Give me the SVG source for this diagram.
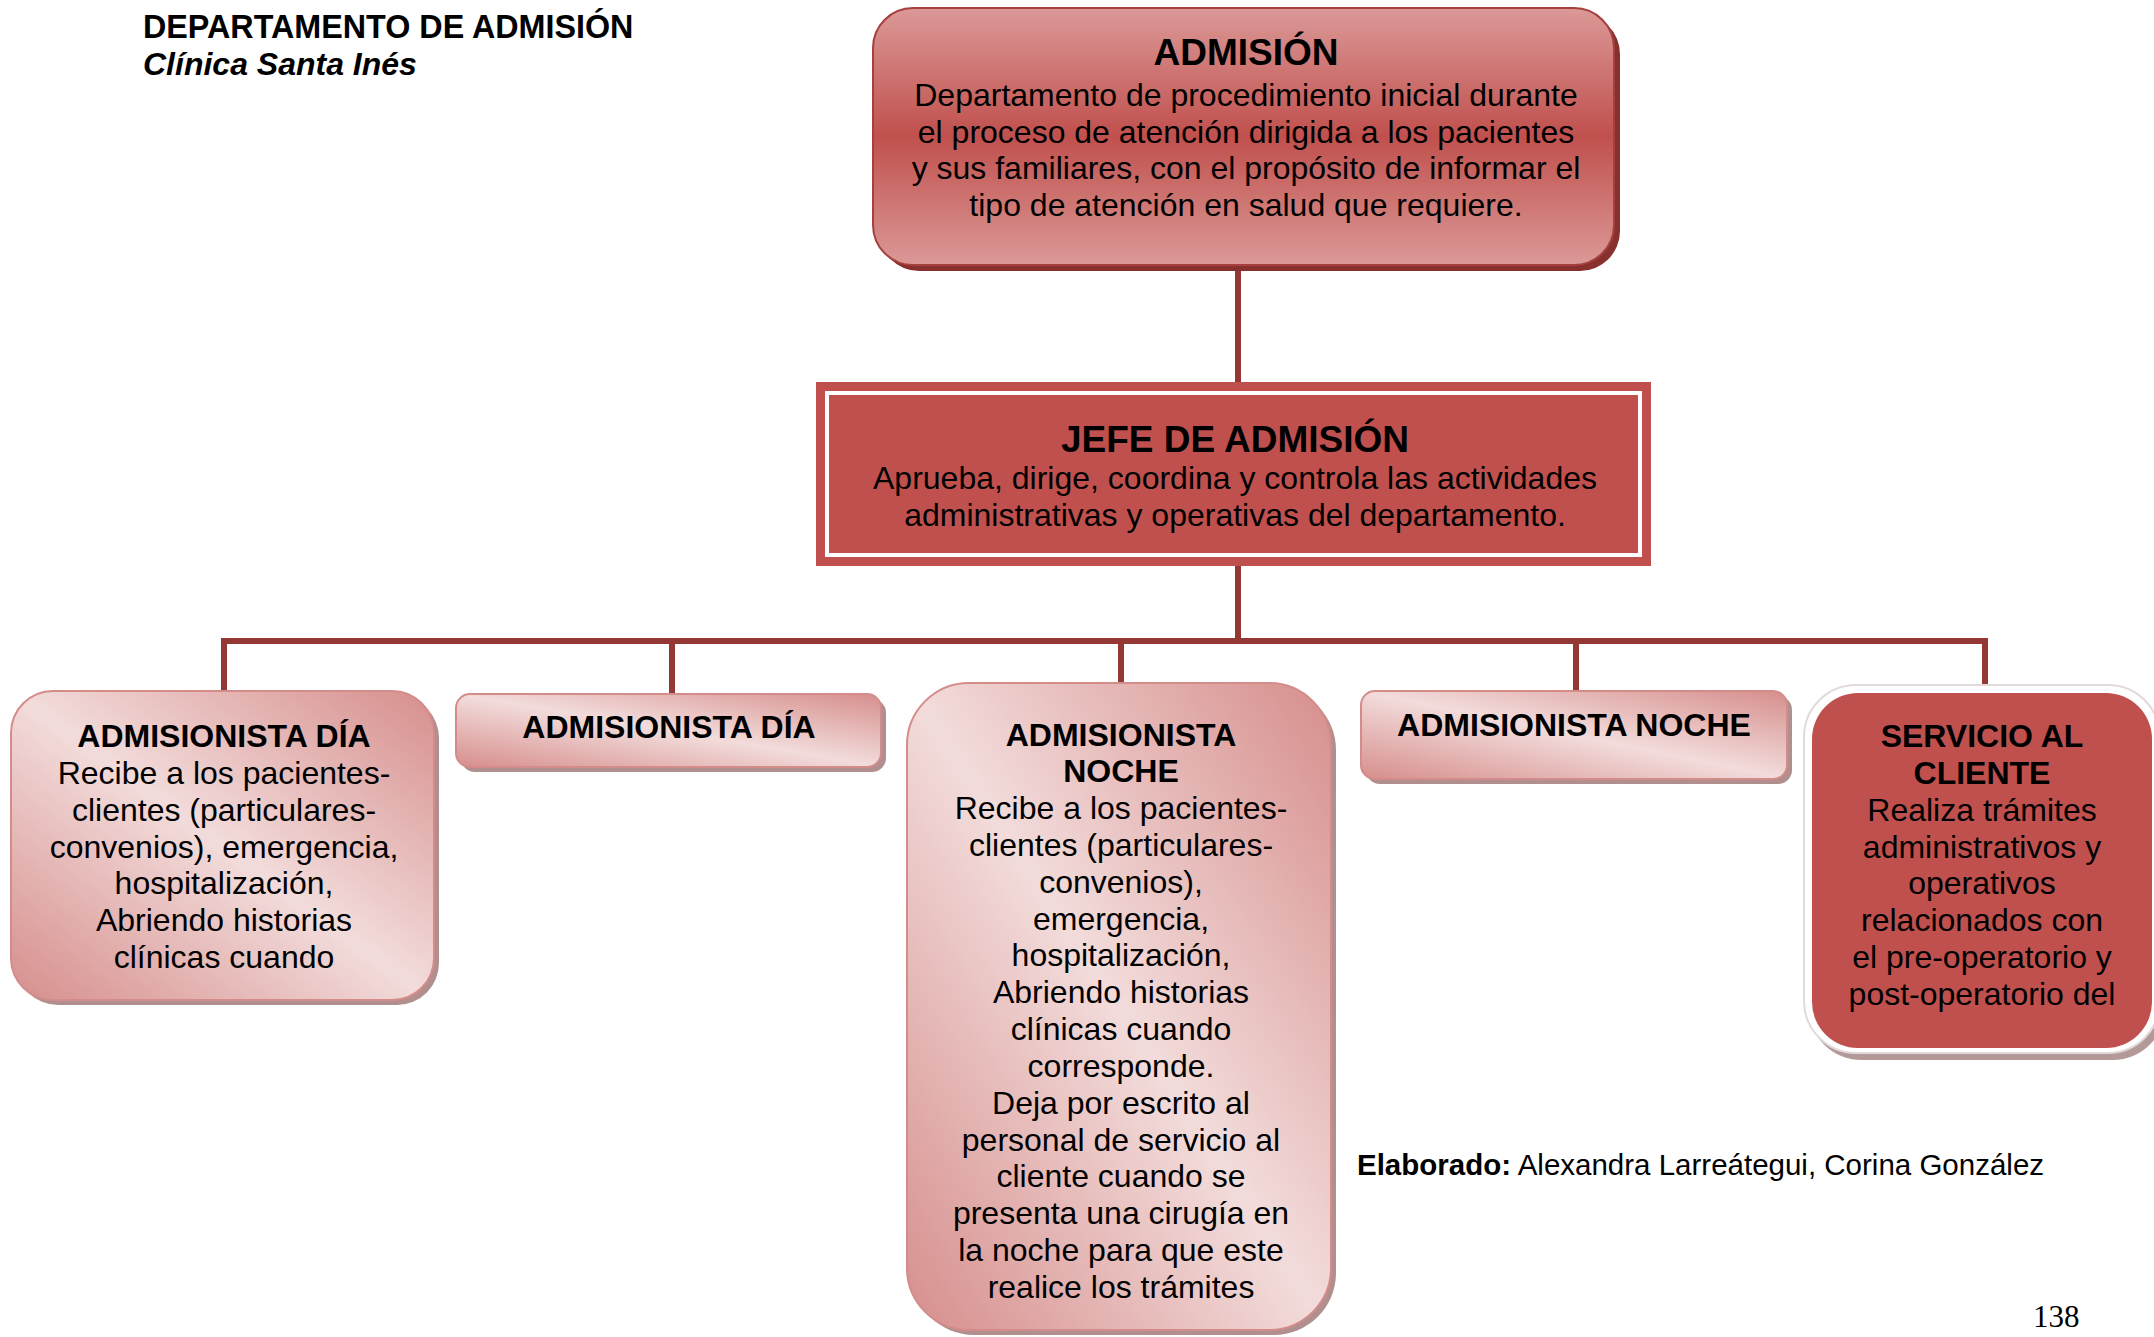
<svg xmlns="http://www.w3.org/2000/svg" width="2154" height="1337" viewBox="0 0 2154 1337">
  <defs>
    <style>
      .t{font-family:"Liberation Sans",Arial,sans-serif;fill:#000;font-size:32px}
      .c{text-anchor:middle}
      .b{font-weight:bold}
      .h36{font-size:37px;font-weight:bold}
      .conn{stroke:#953735;stroke-width:6;fill:none;stroke-linecap:butt}
      .soft{fill:url(#gSoft);stroke:#d48c8a;stroke-width:2}
      .softShadow{fill:#b08f8e}
    </style>
    <linearGradient id="gTop" x1="0" y1="0" x2="0" y2="1">
      <stop offset="0" stop-color="#db9997"/>
      <stop offset="0.5" stop-color="#c0504d"/>
      <stop offset="1" stop-color="#db9997"/>
    </linearGradient>
    <linearGradient id="gSoft" x1="0" y1="1" x2="1" y2="0">
      <stop offset="0" stop-color="#d68e8c"/>
      <stop offset="0.5" stop-color="#f2dcdb"/>
      <stop offset="1" stop-color="#d68e8c"/>
    </linearGradient>
  </defs>

  <rect width="2154" height="1337" fill="#fff"/>

  <!-- page heading -->
  <g id="heading">
    <text class="t b" x="143" y="38" style="font-size:32.3px">DEPARTAMENTO DE ADMISIÓN</text>
    <text class="t b" x="143" y="75" font-style="italic">Clínica Santa Inés</text>
  </g>

  <!-- connectors -->
  <g id="connectors">
    <line class="conn" x1="1238" y1="265" x2="1238" y2="382"/>
    <line class="conn" x1="1238" y1="566" x2="1238" y2="641"/>
    <line class="conn" x1="221" y1="641" x2="1988" y2="641"/>
    <line class="conn" x1="224" y1="641" x2="224" y2="691"/>
    <line class="conn" x1="672" y1="641" x2="672" y2="694"/>
    <line class="conn" x1="1121" y1="641" x2="1121" y2="683"/>
    <line class="conn" x1="1576" y1="641" x2="1576" y2="691"/>
    <line class="conn" x1="1985" y1="641" x2="1985" y2="685"/>
  </g>

  <!-- ADMISIÓN -->
  <g id="admision">
    <rect x="879" y="14" width="741" height="257" rx="40" fill="#87302e"/>
    <rect x="873" y="8" width="741" height="257" rx="40" fill="url(#gTop)" stroke="#a5403e" stroke-width="2"/>
    <text class="t c h36" x="1246" y="65">ADMISIÓN</text>
    <text class="t c" x="1246" y="106">Departamento de procedimiento inicial durante</text>
    <text class="t c" x="1246" y="143">el proceso de atención dirigida a los pacientes</text>
    <text class="t c" x="1246" y="179">y sus familiares, con el propósito de informar el</text>
    <text class="t c" x="1246" y="216">tipo de atención en salud que requiere.</text>
  </g>

  <!-- JEFE DE ADMISIÓN -->
  <g id="jefe">
    <rect x="816" y="382" width="835" height="184" fill="#c0504d"/>
    <rect x="827" y="393" width="813" height="162" fill="none" stroke="#fff" stroke-width="4"/>
    <text class="t c h36" x="1235" y="452">JEFE DE ADMISIÓN</text>
    <text class="t c" x="1235" y="489">Aprueba, dirige, coordina y controla las actividades</text>
    <text class="t c" x="1235" y="526">administrativas y operativas del departamento.</text>
  </g>

  <!-- ADMISIONISTA DÍA (detalle) -->
  <g id="admisionista-dia-1">
    <rect class="softShadow" x="16" y="696" width="423" height="309" rx="42"/>
    <rect class="soft" x="11" y="691" width="423" height="309" rx="42"/>
    <text class="t c b" x="224" y="747">ADMISIONISTA DÍA</text>
    <text class="t c" x="224" y="784">Recibe a los pacientes-</text>
    <text class="t c" x="224" y="821">clientes (particulares-</text>
    <text class="t c" x="224" y="858">convenios), emergencia,</text>
    <text class="t c" x="224" y="894">hospitalización,</text>
    <text class="t c" x="224" y="931">Abriendo historias</text>
    <text class="t c" x="224" y="968">clínicas cuando</text>
  </g>

  <!-- ADMISIONISTA DÍA -->
  <g id="admisionista-dia-2">
    <rect class="softShadow" x="461" y="699" width="425" height="73" rx="14"/>
    <rect class="soft" x="456" y="694" width="425" height="73" rx="14"/>
    <text class="t c b" x="669" y="738">ADMISIONISTA DÍA</text>
  </g>

  <!-- ADMISIONISTA NOCHE (detalle) -->
  <g id="admisionista-noche-1">
    <rect class="softShadow" x="912" y="688" width="424" height="647" rx="62"/>
    <rect class="soft" x="907" y="683" width="424" height="647" rx="62"/>
    <text class="t c b" x="1121" y="746">ADMISIONISTA</text>
    <text class="t c b" x="1121" y="782">NOCHE</text>
    <text class="t c" x="1121" y="819">Recibe a los pacientes-</text>
    <text class="t c" x="1121" y="856">clientes (particulares-</text>
    <text class="t c" x="1121" y="893">convenios),</text>
    <text class="t c" x="1121" y="930">emergencia,</text>
    <text class="t c" x="1121" y="966">hospitalización,</text>
    <text class="t c" x="1121" y="1003">Abriendo historias</text>
    <text class="t c" x="1121" y="1040">clínicas cuando</text>
    <text class="t c" x="1121" y="1077">corresponde.</text>
    <text class="t c" x="1121" y="1114">Deja por escrito al</text>
    <text class="t c" x="1121" y="1151">personal de servicio al</text>
    <text class="t c" x="1121" y="1187">cliente cuando se</text>
    <text class="t c" x="1121" y="1224">presenta una cirugía en</text>
    <text class="t c" x="1121" y="1261">la noche para que este</text>
    <text class="t c" x="1121" y="1298">realice los trámites</text>
  </g>

  <!-- ADMISIONISTA NOCHE -->
  <g id="admisionista-noche-2">
    <rect class="softShadow" x="1366" y="696" width="426" height="88" rx="14"/>
    <rect class="soft" x="1361" y="691" width="426" height="88" rx="14"/>
    <text class="t c b" x="1574" y="736">ADMISIONISTA NOCHE</text>
  </g>

  <!-- SERVICIO AL CLIENTE -->
  <g id="servicio-cliente">
    <rect x="1809" y="692" width="356" height="368" rx="52" fill="#b39a99"/>
    <rect x="1804" y="685" width="356" height="368" rx="52" fill="#fff" stroke="#e2dada" stroke-width="2"/>
    <rect x="1812" y="693" width="340" height="355" rx="46" fill="#c0504d"/>
    <text class="t c b" x="1982" y="747">SERVICIO AL</text>
    <text class="t c b" x="1982" y="784">CLIENTE</text>
    <text class="t c" x="1982" y="821">Realiza trámites</text>
    <text class="t c" x="1982" y="858">administrativos y</text>
    <text class="t c" x="1982" y="894">operativos</text>
    <text class="t c" x="1982" y="931">relacionados con</text>
    <text class="t c" x="1982" y="968">el pre-operatorio y</text>
    <text class="t c" x="1982" y="1005">post-operatorio del</text>
  </g>

  <!-- footer -->
  <g id="footer">
    <text class="t" x="1357" y="1175" style="font-size:29.5px"><tspan font-weight="bold">Elaborado:</tspan> Alexandra Larreátegui, Corina González</text>
    <text x="2033" y="1327" font-family="'Liberation Serif','Times New Roman',serif" font-size="31">138</text>
  </g>
</svg>
